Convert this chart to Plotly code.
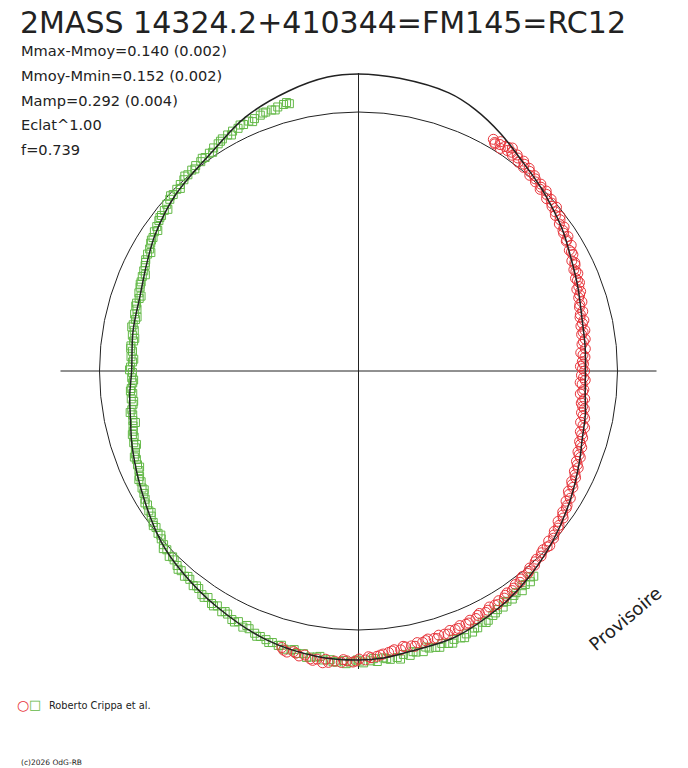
import plotly.graph_objects as go

# polar light curve: angle = phase (deg, clockwise from top), radius = relative flux (mean = 1)
title = '2MASS 14324.2+410344=FM145=RC12'
info_lines = ['Mmax-Mmoy=0.140 (0.002)', 'Mmoy-Mmin=0.152 (0.002)',
              'Mamp=0.292 (0.004)', 'Eclat^1.00', 'f=0.739']
observer = 'Roberto Crippa et al.'
credit = '(c)2026 OdG-RB'
stamp = 'Provisoire'

mean_level = [1.0]
cross_angles = [0, 90, 180, 270]

# fitted model curve
model_deg = [0, 8, 18, 24, 31, 38, 45, 55, 62, 69, 77, 84, 90, 96, 101, 107, 112, 121,
             131, 141, 149, 160, 169, 175, 180, 188, 199, 211, 221, 229, 240, 251, 258,
             264, 270, 280, 289, 297, 304, 314, 327, 336, 346, 354, 360]
model_flux = [1.147, 1.141, 1.129, 1.106, 1.068, 1.027, 0.998, 0.959, 0.929, 0.907, 0.886,
              0.880, 0.876, 0.880, 0.892, 0.903, 0.921, 0.956, 0.996, 1.035, 1.062, 1.093,
              1.100, 1.112, 1.116, 1.114, 1.097, 1.062, 1.033, 1.008, 0.961, 0.923, 0.900,
              0.888, 0.876, 0.884, 0.892, 0.917, 0.946, 0.981, 1.021, 1.073, 1.114, 1.141,
              1.147]

# observations, set 1 (red circles)
red_deg = [30.2, 31.0, 31.8, 32.5, 33.1, 34.0, 34.6, 35.5, 36.3, 37.4, 38.2, 39.0, 40.1,
           41.2, 42.0, 43.1, 44.3, 45.0, 46.2, 47.5, 48.3, 49.6, 50.4, 51.7, 52.5, 53.8,
           55.0, 56.1, 57.3, 58.0, 59.4, 60.2, 61.5, 62.7, 63.4, 64.8, 66.0, 66.9, 68.2,
           69.5, 70.3, 71.6, 72.8, 73.9, 75.1, 76.4, 77.3, 78.6, 79.8, 80.7, 82.0, 83.2,
           84.4, 85.3, 86.5, 87.6, 88.8, 90.0, 91.1, 92.3, 93.4, 94.7, 95.9, 97.0, 98.2,
           99.5, 100.6, 101.8, 103.0, 104.1, 105.3, 106.6, 107.7, 108.9, 110.2, 111.3,
           112.5, 113.8, 114.9, 116.2, 117.4, 118.5, 119.8, 121.0, 122.1, 123.4, 124.6,
           125.7, 127.0, 128.2, 129.3, 130.6, 131.8, 133.0, 134.1, 135.4, 136.6, 137.8,
           139.0, 140.1, 141.4, 142.6, 143.7, 145.0, 146.2, 147.3, 148.6, 149.8, 151.0,
           152.2, 153.5, 154.6, 155.9, 157.0, 158.3, 159.5, 160.6, 161.9, 163.1, 164.2,
           165.5, 166.7, 167.8, 169.1, 170.3, 171.4, 172.7, 173.9, 175.0, 176.3, 177.5,
           178.6, 179.9, 181.1, 182.3, 183.4, 184.7, 185.9, 187.0, 188.2, 189.5, 190.7,
           191.8, 193.0, 194.3, 195.5,
           30.8, 32.0, 33.8, 35.0, 36.8, 38.7, 40.6, 42.6, 44.8, 46.8, 49.0, 51.0, 53.1,
           55.5, 57.8, 60.8, 63.9, 65.4, 67.5, 69.0, 71.0, 73.3, 75.7, 78.0, 80.2, 82.6,
           85.9, 88.2, 89.4, 91.7, 93.0, 95.3, 97.6, 99.0, 101.2, 103.6, 105.9, 108.3,
           110.8, 113.2, 115.6, 118.0, 120.4, 122.8, 125.2, 127.6, 130.0, 132.4, 134.8,
           137.2, 139.6, 142.0, 144.4, 146.8, 149.2, 151.6, 154.0, 156.4, 158.8, 161.2,
           163.6, 166.0, 168.4, 170.8, 173.2, 175.6, 178.0, 180.5, 183.0, 186.5, 189.0,
           192.5, 195.0]
red_flux = [1.035, 1.023, 1.042, 1.019, 1.035, 1.027, 1.046, 1.023, 1.035, 1.015, 1.031,
            1.012, 1.023, 1.004, 1.015, 1.000, 1.008, 0.992, 1.004, 0.985, 0.996, 0.981,
            0.992, 0.969, 0.981, 0.961, 0.969, 0.954, 0.961, 0.946, 0.954, 0.938, 0.942,
            0.927, 0.934, 0.919, 0.927, 0.911, 0.919, 0.900, 0.911, 0.896, 0.903, 0.888,
            0.896, 0.880, 0.892, 0.876, 0.888, 0.873, 0.884, 0.869, 0.880, 0.861, 0.876,
            0.865, 0.857, 0.873, 0.861, 0.876, 0.865, 0.873, 0.861, 0.880, 0.869, 0.884,
            0.876, 0.892, 0.880, 0.900, 0.888, 0.903, 0.896, 0.911, 0.903, 0.919, 0.911,
            0.927, 0.919, 0.934, 0.927, 0.942, 0.934, 0.954, 0.946, 0.961, 0.958, 0.973,
            0.965, 0.981, 0.977, 0.992, 0.985, 0.996, 0.992, 1.004, 1.000, 1.012, 1.008,
            1.019, 1.015, 1.027, 1.023, 1.035, 1.031, 1.042, 1.039, 1.046, 1.042, 1.054,
            1.046, 1.058, 1.054, 1.062, 1.058, 1.066, 1.062, 1.069, 1.066, 1.073, 1.069,
            1.077, 1.073, 1.081, 1.081, 1.089, 1.085, 1.093, 1.097, 1.104, 1.108, 1.116,
            1.112, 1.124, 1.120, 1.127, 1.124, 1.131, 1.135, 1.124, 1.127, 1.116, 1.124,
            1.112, 1.120, 1.108,
            1.027, 1.031, 1.039, 1.031, 1.027, 1.023, 1.015, 1.008, 1.000, 0.996, 0.988,
            0.977, 0.973, 0.958, 0.950, 0.942, 0.931, 0.923, 0.915, 0.911, 0.903, 0.892,
            0.884, 0.884, 0.880, 0.876, 0.869, 0.869, 0.865, 0.869, 0.857, 0.869, 0.873,
            0.876, 0.884, 0.892, 0.896, 0.903, 0.911, 0.919, 0.927, 0.934, 0.942, 0.958,
            0.965, 0.977, 0.985, 1.000, 0.996, 1.004, 1.015, 1.019, 1.031, 1.035, 1.050,
            1.050, 1.050, 1.062, 1.066, 1.073, 1.077, 1.073, 1.085, 1.077, 1.089, 1.100,
            1.104, 1.120, 1.116, 1.120, 1.131, 1.116, 1.116]

# observations, set 2 (green squares)
green_deg = [139.5, 140.8, 142.0, 143.3, 144.6, 146.0, 147.2, 148.5, 149.8, 151.2, 152.5,
             153.8, 155.1, 156.4, 157.7, 159.0, 160.4, 161.7, 163.0, 164.4, 165.7, 167.0,
             168.4, 169.7, 171.0, 172.3, 173.7, 175.0, 176.3, 177.6, 179.0, 180.3, 181.6,
             183.0, 184.3, 185.6, 187.0, 188.3, 189.6, 191.0, 192.3, 193.6, 195.0, 196.3,
             197.6, 199.0, 200.3, 201.6, 203.0, 204.3, 205.6, 207.0, 208.3, 209.6, 211.0,
             212.3, 213.6, 215.0, 216.3, 217.6, 219.0, 220.3, 221.6, 223.0, 224.3, 225.6,
             227.0, 228.3, 229.6, 231.0, 232.3, 233.6, 235.0, 236.3, 237.6, 239.0, 240.3,
             241.6, 243.0, 244.3, 245.6, 247.0, 248.3, 249.6, 251.0, 252.3, 253.6, 255.0,
             256.3, 257.6, 259.0, 260.3, 261.6, 263.0, 264.3, 265.6, 267.0, 268.3, 269.6,
             271.0, 272.3, 273.6, 275.0, 276.3, 277.6, 279.0, 280.3, 281.6, 283.0, 284.3,
             285.6, 287.0, 288.3, 289.6, 291.0, 292.3, 293.6, 295.0, 296.3, 297.6, 299.0,
             300.3, 301.6, 303.0, 304.3, 305.6, 307.0, 308.3, 309.6, 311.0, 312.3, 313.6,
             315.0, 316.3, 317.6, 319.0, 320.3, 321.6, 323.0, 324.3, 325.6, 327.0, 328.3,
             329.6, 331.0, 332.3, 333.6, 335.0, 336.3, 337.6, 339.0, 340.3, 341.6, 343.0,
             344.3, 345.5,
             140.2, 142.7, 145.3, 147.9, 150.5, 153.1, 155.7, 158.3, 160.9, 163.6, 166.3,
             169.0, 171.7, 174.4, 177.0, 179.7, 182.4, 185.0, 187.7, 190.3, 193.0, 195.7,
             198.3, 201.0, 203.7, 206.3, 209.0, 211.7, 214.3, 217.0, 219.7, 222.3, 225.0,
             227.7, 230.3, 233.0, 235.7, 238.3, 241.0, 243.7, 246.3, 249.0, 251.7, 254.3,
             257.0, 259.7, 262.3, 265.0, 267.7, 270.3, 273.0, 275.7, 278.3, 281.0, 283.7,
             286.3, 289.0, 291.7, 294.3, 297.0, 299.7, 302.3, 305.0, 307.7, 310.3, 313.0,
             315.7, 318.3, 321.0, 323.7, 326.3, 329.0, 331.7, 334.3, 337.0, 339.7, 342.3,
             345.0]
green_flux = [1.042, 1.050, 1.046, 1.058, 1.050, 1.062, 1.058, 1.069, 1.066, 1.077, 1.085,
              1.081, 1.093, 1.100, 1.097, 1.104, 1.100, 1.108, 1.100, 1.108, 1.104, 1.112,
              1.108, 1.116, 1.108, 1.116, 1.120, 1.112, 1.124, 1.120, 1.127, 1.116, 1.124,
              1.120, 1.127, 1.120, 1.124, 1.116, 1.120, 1.112, 1.116, 1.108, 1.112, 1.104,
              1.100, 1.097, 1.093, 1.089, 1.081, 1.085, 1.073, 1.077, 1.066, 1.069, 1.058,
              1.062, 1.050, 1.054, 1.042, 1.046, 1.035, 1.039, 1.031, 1.027, 1.019, 1.023,
              1.012, 1.008, 1.000, 0.996, 0.988, 0.985, 0.977, 0.973, 0.965, 0.961, 0.954,
              0.950, 0.942, 0.938, 0.931, 0.927, 0.923, 0.919, 0.911, 0.911, 0.903, 0.900,
              0.896, 0.892, 0.888, 0.888, 0.880, 0.884, 0.876, 0.880, 0.873, 0.876, 0.873,
              0.880, 0.873, 0.880, 0.876, 0.884, 0.876, 0.884, 0.880, 0.888, 0.884, 0.892,
              0.888, 0.896, 0.892, 0.900, 0.903, 0.907, 0.911, 0.915, 0.919, 0.927, 0.931,
              0.934, 0.942, 0.946, 0.954, 0.958, 0.965, 0.969, 0.973, 0.981, 0.985, 0.988,
              0.992, 0.996, 1.000, 1.004, 1.008, 1.012, 1.012, 1.015, 1.019, 1.027, 1.031,
              1.039, 1.042, 1.046, 1.046, 1.050, 1.054, 1.054, 1.058, 1.062, 1.062, 1.066,
              1.069, 1.066,
              1.035, 1.042, 1.054, 1.054, 1.073, 1.089, 1.089, 1.108, 1.112, 1.112, 1.097,
              1.104, 1.124, 1.116, 1.112, 1.120, 1.131, 1.127, 1.112, 1.124, 1.104, 1.100,
              1.104, 1.097, 1.073, 1.081, 1.062, 1.066, 1.058, 1.039, 1.031, 1.035, 1.015,
              1.019, 0.992, 0.992, 0.969, 0.969, 0.946, 0.946, 0.923, 0.927, 0.903, 0.907,
              0.884, 0.896, 0.876, 0.884, 0.869, 0.884, 0.869, 0.884, 0.873, 0.892, 0.880,
              0.896, 0.888, 0.907, 0.903, 0.923, 0.923, 0.946, 0.946, 0.969, 0.965, 0.992,
              0.985, 1.008, 1.004, 1.019, 1.015, 1.035, 1.035, 1.054, 1.046, 1.062, 1.058,
              1.073]

RED = '#e8363c'
GREEN = '#62b846'
INK = '#222222'
FONT = 'DejaVu Sans'

# the page body adds an 8 px margin, so work in page pixels minus that offset
OFF = 8
W, H = 688 - OFF, 768 - OFF

# polar area: centre (358.5, 371) page px, outer edge = end of the cross lines
cx, cy, half = 358.5 - OFF, 371 - OFF, 298
rmax = 1.0 * half / 259

fig = go.Figure()

fig.add_trace(go.Scatterpolar(
    r=green_flux, theta=green_deg, mode='markers', cliponaxis=False,
    marker=dict(symbol='square-open', size=8, color=GREEN, line=dict(width=1)),
))
fig.add_trace(go.Scatterpolar(
    r=red_flux, theta=red_deg, mode='markers', cliponaxis=False,
    marker=dict(symbol='circle-open', size=10, color=RED, line=dict(width=1)),
))
fig.add_trace(go.Scatterpolar(
    r=model_flux, theta=model_deg, mode='lines', cliponaxis=False,
    line=dict(color=INK, width=1.5, shape='spline', smoothing=1),
))

fig.update_layout(
    width=W, height=H,
    margin=dict(l=0, r=0, t=0, b=0),
    paper_bgcolor='white',
    showlegend=False,
    polar=dict(
        domain=dict(x=[(cx - half) / W, (cx + half) / W],
                    y=[(H - cy - half) / H, (H - cy + half) / H]),
        bgcolor='white',
        radialaxis=dict(range=[0, rmax], tickvals=mean_level, showticklabels=False,
                        ticks='', showline=False, gridcolor=INK, gridwidth=1),
        angularaxis=dict(rotation=90, direction='clockwise', tickvals=cross_angles,
                         showticklabels=False, ticks='', showline=False,
                         gridcolor=INK, gridwidth=1),
    ),
)

def px_x(x):
    return (x - OFF) / W

def px_y(y):
    return 1 - (y - OFF) / H

def note(text, x, y, size, color=INK, xanchor='left', angle=0):
    fig.add_annotation(text=text, x=px_x(x), y=px_y(y), xref='paper', yref='paper',
                       xanchor=xanchor, yanchor='middle', showarrow=False, textangle=angle,
                       font=dict(family=FONT, size=size, color=color))

note(title, 18, 22.5, 30)
for i, line in enumerate(info_lines):
    note(line, 19, 50.5 + 24.8 * i, 14.6)

note('\u25cb', 22.5, 704.5, 14, RED, 'center')
note('\u25a1', 35, 704.5, 13, GREEN, 'center')
note(observer, 47, 705.5, 9.8)
note(credit, 19, 762, 7.5)
note(stamp, 625, 618, 18, xanchor='center', angle=-40)

fig.write_html('out.html')
